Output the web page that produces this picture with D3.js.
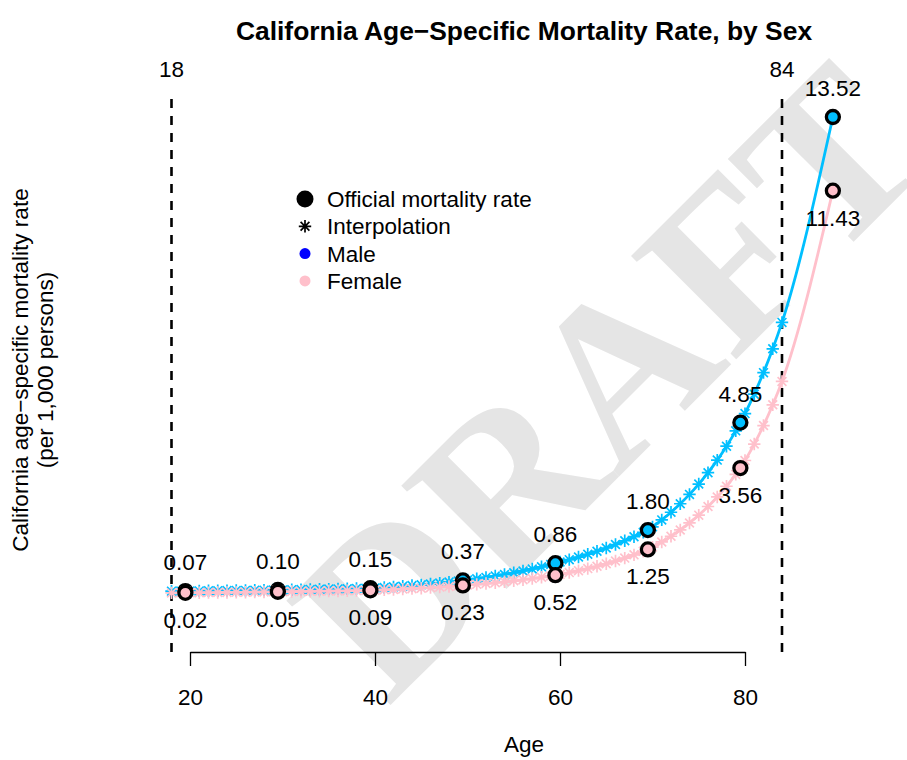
<!DOCTYPE html>
<html>
<head>
<meta charset="utf-8">
<script src="https://cdn.jsdelivr.net/npm/d3@7"></script>
<style>
  body { margin: 0; background: #fff; }
  text { font-family: "Liberation Sans", Arial, sans-serif; }
</style>
</head>
<body>
<div id="chart"></div>
<script>
// California age-specific mortality rate, by sex

var svgWidth = 907;
var svgHeight = 760;

// official rates (per 1,000) at age-group midpoints
var officialAges = [19.5, 29.5, 39.5, 49.5, 59.5, 69.5, 79.5, 89.5];
var maleRate = [0.07, 0.10, 0.15, 0.37, 0.86, 1.80, 4.85, 13.52];
var femaleRate = [0.02, 0.05, 0.09, 0.23, 0.52, 1.25, 3.56, 11.43];

// interpolated single-year values
var interpAges = [18, 19, 20, 21, 22, 23, 24, 25, 26, 27, 28, 29,
  30, 31, 32, 33, 34, 35, 36, 37, 38, 39,
  40, 41, 42, 43, 44, 45, 46, 47, 48, 49,
  50, 51, 52, 53, 54, 55, 56, 57, 58, 59,
  60, 61, 62, 63, 64, 65, 66, 67, 68, 69,
  70, 71, 72, 73, 74, 75, 76, 77, 78, 79,
  80, 81, 82, 83, 84];
var maleInterp = [0.066, 0.069, 0.071, 0.074, 0.077, 0.079, 0.082, 0.085, 0.088, 0.091, 0.095, 0.098,
  0.102, 0.106, 0.111, 0.115, 0.120, 0.125, 0.130, 0.136, 0.141, 0.147,
  0.157, 0.172, 0.188, 0.206, 0.225, 0.246, 0.270, 0.295, 0.323, 0.354,
  0.386, 0.420, 0.457, 0.497, 0.541, 0.588, 0.640, 0.696, 0.758, 0.824,
  0.892, 0.961, 1.034, 1.114, 1.199, 1.291, 1.390, 1.497, 1.611, 1.735,
  1.891, 2.089, 2.306, 2.546, 2.812, 3.105, 3.428, 3.785, 4.180, 4.615,
  5.105, 5.656, 6.267, 6.943, 7.693];
var femaleInterp = [0.017, 0.019, 0.021, 0.023, 0.025, 0.028, 0.030, 0.033, 0.036, 0.040, 0.044, 0.048,
  0.051, 0.055, 0.058, 0.061, 0.065, 0.069, 0.073, 0.078, 0.082, 0.087,
  0.094, 0.104, 0.114, 0.125, 0.137, 0.151, 0.166, 0.182, 0.200, 0.219,
  0.240, 0.260, 0.282, 0.306, 0.332, 0.360, 0.391, 0.424, 0.460, 0.499,
  0.543, 0.593, 0.648, 0.707, 0.772, 0.842, 0.920, 1.004, 1.096, 1.196,
  1.317, 1.462, 1.624, 1.803, 2.002, 2.223, 2.468, 2.740, 3.043, 3.379,
  3.774, 4.241, 4.765, 5.355, 6.017];

var cutoffAges = [18, 84];
var xTicks = [20, 40, 60, 80];
var legendLabels = ["Official mortality rate", "Interpolation", "Male", "Female"];

var blue = "#00BFFF";
var pink = "#FFC0CB";
var fontSize = "22.5px";

var svg = d3.select("#chart")
  .append("svg")
  .attr("width", svgWidth)
  .attr("height", svgHeight);

var xScale = d3.scaleLinear()
  .domain([20, 80])
  .range([190, 745]);

var yScale = d3.scaleLinear()
  .domain([-1.66, 14.23])
  .range([652, 92]);

// watermark
svg.append("text")
  .attr("transform", "translate(608,380) rotate(-45)")
  .attr("text-anchor", "middle")
  .attr("dominant-baseline", "central")
  .style("font-family", "'Liberation Serif', 'DejaVu Serif', serif")
  .style("font-weight", "bold")
  .style("font-size", "225px")
  .attr("fill", "#e5e5e5")
  .text("DRAFT");

// title
svg.append("text")
  .attr("x", 524)
  .attr("y", 40)
  .attr("text-anchor", "middle")
  .style("font-size", "26.4px")
  .style("font-weight", "bold")
  .text("California Age\u2212Specific Mortality Rate, by Sex");

// x axis
var xAxis = svg.append("g")
  .attr("transform", "translate(0," + yScale.range()[0] + ")")
  .call(d3.axisBottom(xScale).tickValues(xTicks).tickSize(14).tickSizeOuter(0).tickPadding(23));
xAxis.selectAll("text")
  .style("font-family", "'Liberation Sans', Arial, sans-serif")
  .style("font-size", fontSize)
  .attr("fill", "#000");
xAxis.selectAll("path, line")
  .attr("stroke", "#000")
  .attr("stroke-width", 1.3);

svg.append("text")
  .attr("x", 524)
  .attr("y", 752)
  .attr("text-anchor", "middle")
  .style("font-size", fontSize)
  .text("Age");

// y label
var yLab = svg.append("text")
  .attr("transform", "translate(28,370) rotate(-90)")
  .attr("text-anchor", "middle")
  .style("font-size", fontSize);
yLab.append("tspan").attr("x", 0).attr("y", 0).text("California age\u2212specific mortality rate");
yLab.append("tspan").attr("x", 0).attr("y", 25).text("(per 1,000 persons)");

// cutoff lines
svg.append("g")
  .selectAll("line")
  .data(cutoffAges)
  .enter()
  .append("line")
  .attr("x1", function(d) { return xScale(d); })
  .attr("x2", function(d) { return xScale(d); })
  .attr("y1", yScale.range()[0])
  .attr("y2", yScale.range()[1])
  .attr("stroke", "#000")
  .attr("stroke-width", 2.6)
  .attr("stroke-dasharray", "9,8");

svg.append("g")
  .selectAll("text")
  .data(cutoffAges)
  .enter()
  .append("text")
  .attr("x", function(d) { return xScale(d); })
  .attr("y", 77)
  .attr("text-anchor", "middle")
  .style("font-size", fontSize)
  .text(function(d) { return d; });

var asterisk = "M-6.2,0H6.2M0,-6.2V6.2M-4.4,-4.4L4.4,4.4M-4.4,4.4L4.4,-4.4";

var line = d3.line()
  .x(function(d) { return xScale(d.age); })
  .y(function(d) { return yScale(d.v); })
  .curve(d3.curveMonotoneX);

function drawSeries(interp, official, color) {
  var pts = interpAges.map(function(a, i) { return {age: a, v: interp[i]}; })
    .concat(officialAges.map(function(a, i) { return {age: a, v: official[i]}; }))
    .sort(function(a, b) { return a.age - b.age; });

  var g = svg.append("g");
  g.append("path")
    .datum(pts)
    .attr("d", line)
    .attr("fill", "none")
    .attr("stroke", color)
    .attr("stroke-width", 2.8);

  g.selectAll(".ast")
    .data(interpAges)
    .enter()
    .append("path")
    .attr("transform", function(d, i) { return "translate(" + xScale(d) + "," + yScale(interp[i]) + ")"; })
    .attr("d", asterisk)
    .attr("stroke", color)
    .attr("stroke-width", 1.7)
    .attr("fill", "none");

  g.selectAll("circle")
    .data(officialAges)
    .enter()
    .append("circle")
    .attr("cx", function(d) { return xScale(d); })
    .attr("cy", function(d, i) { return yScale(official[i]); })
    .attr("r", 6.5)
    .attr("fill", color)
    .attr("stroke", "#000")
    .attr("stroke-width", 3.3);
}

drawSeries(maleInterp, maleRate, blue);
drawSeries(femaleInterp, femaleRate, pink);

// value labels
var fmt = d3.format(".2f");
svg.append("g")
  .selectAll("text")
  .data(officialAges)
  .enter()
  .append("text")
  .attr("x", function(d) { return xScale(d); })
  .attr("y", function(d, i) { return yScale(maleRate[i]) - 21; })
  .attr("text-anchor", "middle")
  .style("font-size", fontSize)
  .text(function(d, i) { return fmt(maleRate[i]); });

svg.append("g")
  .selectAll("text")
  .data(officialAges)
  .enter()
  .append("text")
  .attr("x", function(d) { return xScale(d); })
  .attr("y", function(d, i) { return yScale(femaleRate[i]) + 35; })
  .attr("text-anchor", "middle")
  .style("font-size", fontSize)
  .text(function(d, i) { return fmt(femaleRate[i]); });

// legend
var legend = svg.append("g").attr("transform", "translate(305,199)");
var rows = legend.selectAll("g")
  .data(legendLabels)
  .enter()
  .append("g")
  .attr("transform", function(d, i) { return "translate(0," + (i * 27.3) + ")"; });

rows.append("text")
  .attr("x", 22)
  .attr("y", 8)
  .style("font-size", fontSize)
  .text(function(d) { return d; });

rows.filter(function(d, i) { return i === 0; })
  .append("circle").attr("r", 8.5).attr("fill", "#000");
rows.filter(function(d, i) { return i === 1; })
  .append("path").attr("d", asterisk).attr("stroke", "#000").attr("stroke-width", 1.7);
rows.filter(function(d, i) { return i === 2; })
  .append("circle").attr("r", 5.5).attr("fill", "#0000FF");
rows.filter(function(d, i) { return i === 3; })
  .append("circle").attr("r", 5.5).attr("fill", pink);
</script>
</body>
</html>
